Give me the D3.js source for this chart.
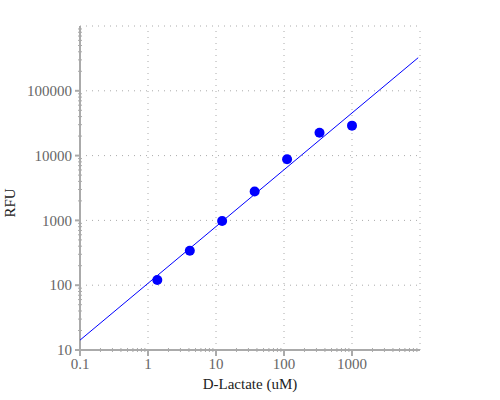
<!DOCTYPE html>
<html>
<head>
<meta charset="utf-8">
<script src="https://cdn.jsdelivr.net/npm/d3@7"></script>
<style>
  body { margin: 0; background: #fff; }
</style>
</head>
<body>
<svg id="chart"></svg>
<script>
// Standard curve values
const concentration = [1.37, 4.12, 12.3, 37, 111, 333, 1000];
const rfu = [120, 340, 980, 2800, 8800, 22500, 29000];

// Fitted line end points
const fitConcentration = [0.1, 9400];
const fitRfu = [14.2, 324000];

const xTicks = [0.1, 1, 10, 100, 1000, 10000];
const yTicks = [10, 100, 1000, 10000, 100000, 1000000];
const xTickLabels = ["0.1", "1", "10", "100", "1000", ""];
const yTickLabels = ["10", "100", "1000", "10000", "100000", ""];

const width = 500;
const height = 400;
const margin = { top: 26, right: 80, bottom: 50, left: 80 };
const serif = "'Liberation Serif', 'Times New Roman', Times, 'DejaVu Serif', serif";

const svg = d3.select("#chart")
  .attr("width", width)
  .attr("height", height)
  .attr("font-family", serif)
  .style("font-family", serif);

const x = d3.scaleLog()
  .domain([0.1, 10000])
  .range([margin.left, width - margin.right]);

const y = d3.scaleLog()
  .domain([10, 1000000])
  .range([height - margin.bottom, margin.top]);

const gridColor = "#aaa";

// Dotted grid
svg.append("g")
  .selectAll("line")
  .data(yTicks.slice(1))
  .enter()
  .append("line")
  .attr("x1", x.range()[0])
  .attr("x2", x.range()[1])
  .attr("y1", d => y(d))
  .attr("y2", d => y(d))
  .attr("stroke", gridColor)
  .attr("stroke-width", 1)
  .attr("stroke-dasharray", "1,5");

svg.append("g")
  .selectAll("line")
  .data(xTicks.slice(1))
  .enter()
  .append("line")
  .attr("x1", d => x(d))
  .attr("x2", d => x(d))
  .attr("y1", y.range()[0])
  .attr("y2", y.range()[1])
  .attr("stroke", gridColor)
  .attr("stroke-width", 1)
  .attr("stroke-dasharray", "1,5");

// Minor tick values for each decade
function minors(domain) {
  const out = [];
  const lo = Math.round(Math.log10(domain[0]));
  const hi = Math.round(Math.log10(domain[1]));
  for (let e = lo; e < hi; e++) {
    for (let m = 2; m <= 9; m++) out.push(m * Math.pow(10, e));
  }
  return out;
}

const axisColor = "#aaa";
const tickTextColor = "#666";

// X axis
const xAxis = svg.append("g")
  .attr("transform", `translate(0,${y.range()[0]})`);

xAxis.append("line")
  .attr("x1", x.range()[0] - 1)
  .attr("x2", x.range()[1])
  .attr("stroke", axisColor)
  .attr("stroke-width", 2);

xAxis.selectAll(".minor")
  .data(minors(x.domain()))
  .enter()
  .append("line")
  .attr("x1", d => x(d))
  .attr("x2", d => x(d))
  .attr("y1", -2)
  .attr("y2", 2)
  .attr("stroke", axisColor)
  .attr("stroke-width", 1);

xAxis.selectAll(".major")
  .data(xTicks.slice(0, -1))
  .enter()
  .append("line")
  .attr("x1", d => x(d))
  .attr("x2", d => x(d))
  .attr("y1", 0)
  .attr("y2", 6)
  .attr("stroke", axisColor)
  .attr("stroke-width", 2);

xAxis.selectAll("text")
  .data(xTicks)
  .enter()
  .append("text")
  .attr("x", d => x(d))
  .attr("y", 19)
  .attr("text-anchor", "middle")
  .attr("fill", tickTextColor)
  .style("font-size", "15px")
  .text((d, i) => xTickLabels[i]);

// Y axis
const yAxis = svg.append("g")
  .attr("transform", `translate(${x.range()[0]},0)`);

yAxis.append("line")
  .attr("y1", y.range()[0] + 1)
  .attr("y2", y.range()[1])
  .attr("stroke", axisColor)
  .attr("stroke-width", 2);

yAxis.selectAll(".minor")
  .data(minors(y.domain()))
  .enter()
  .append("line")
  .attr("y1", d => y(d))
  .attr("y2", d => y(d))
  .attr("x1", -2)
  .attr("x2", 2)
  .attr("stroke", axisColor)
  .attr("stroke-width", 1);

yAxis.selectAll(".major")
  .data(yTicks.slice(0, -1))
  .enter()
  .append("line")
  .attr("y1", d => y(d))
  .attr("y2", d => y(d))
  .attr("x1", -5)
  .attr("x2", 0)
  .attr("stroke", axisColor)
  .attr("stroke-width", 2);

yAxis.selectAll("text")
  .data(yTicks)
  .enter()
  .append("text")
  .attr("x", -8)
  .attr("y", d => y(d))
  .attr("dy", "0.35em")
  .attr("text-anchor", "end")
  .attr("fill", tickTextColor)
  .style("font-size", "15px")
  .text((d, i) => yTickLabels[i]);

// Axis titles
svg.append("text")
  .attr("x", 250)
  .attr("y", 389)
  .attr("text-anchor", "middle")
  .attr("fill", "#222")
  .style("font-size", "15px")
  .text("D-Lactate (uM)");

svg.append("text")
  .attr("transform", "translate(15,203) rotate(-90)")
  .attr("text-anchor", "middle")
  .attr("fill", "#222")
  .style("font-size", "15px")
  .text("RFU");

// Fit line
const fitData = fitConcentration.map((c, i) => [c, fitRfu[i]]);
svg.append("path")
  .datum(fitData)
  .attr("d", d3.line().x(d => x(d[0])).y(d => y(d[1])))
  .attr("fill", "none")
  .attr("stroke", "#0000ff")
  .attr("stroke-width", 1);

// Points
svg.append("g")
  .selectAll("circle")
  .data(concentration.map((c, i) => [c, rfu[i]]))
  .enter()
  .append("circle")
  .attr("cx", d => x(d[0]))
  .attr("cy", d => y(d[1]))
  .attr("r", 5)
  .attr("fill", "#0000ff");
</script>
</body>
</html>
